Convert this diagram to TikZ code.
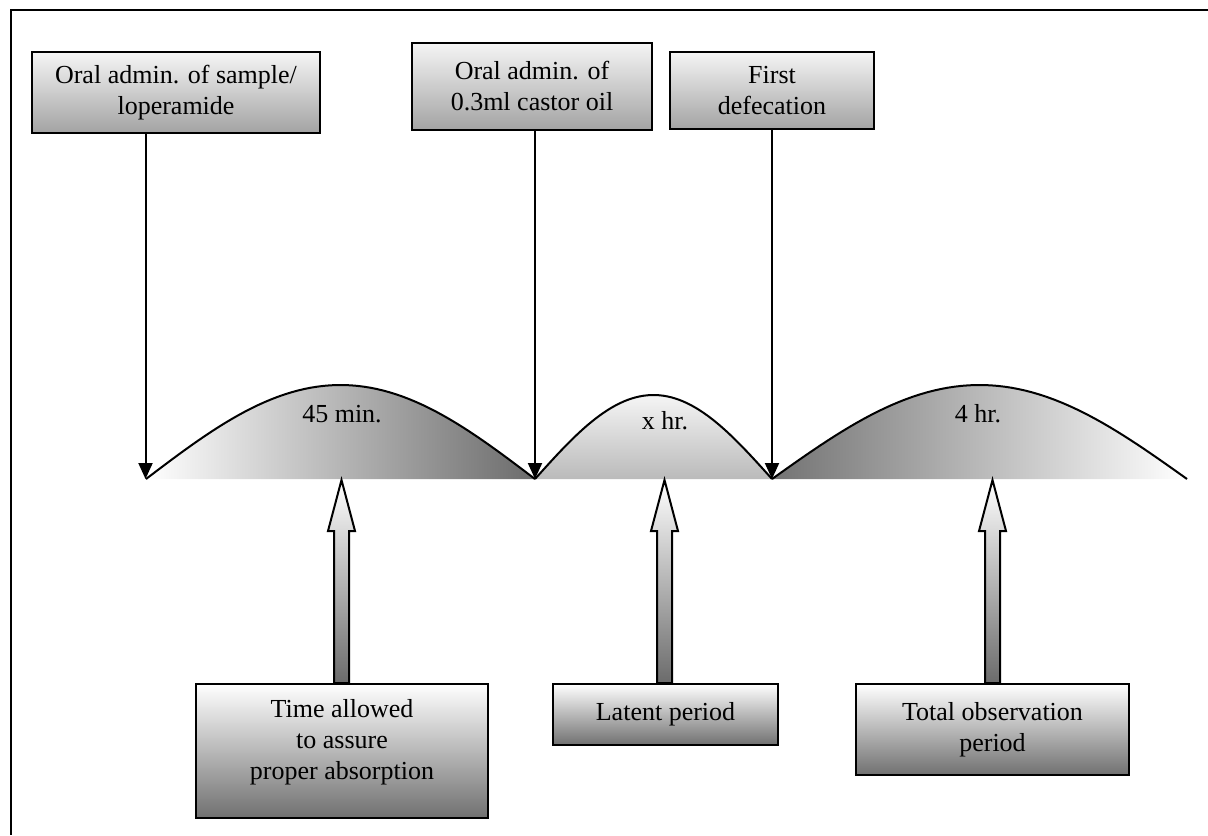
\documentclass[tikz,border=0pt]{standalone}
\usepackage{fontspec}
\setmainfont{Liberation Serif}
\usetikzlibrary{arrows.meta,calc}
\begin{document}
\begin{tikzpicture}[x=0.5pt,y=-0.5pt,
  txt/.style={font=\fontsize{13}{15.5}\selectfont,align=center},
  topbox/.style={txt,draw,line width=1pt,top color=black!4,bottom color=black!36,inner sep=0pt},
  botbox/.style={txt,draw,line width=1pt,top color=white,bottom color=black!56,inner sep=0pt},
  downarrow/.style={line width=1pt,-{Triangle[length=8pt,width=7pt]}},
  hump/.style={line width=1pt},
  uparrow/.style={draw,line width=1pt,top color=white,bottom color=black!58}]
\useasboundingbox (0,0) rectangle (1208,835);
% frame
\draw[line width=1pt] (1208,10) -- (11,10) -- (11,835);

% valleys
\coordinate (v0) at (145.5,479);
\coordinate (v1) at (535,479);
\coordinate (v2) at (772,479);

% humps
\shade[left color=white,right color=black!58]
  plot[domain=0:180,samples=60] ({146+\x/180*389},{479-94*sin(\x)}) -- cycle;
\draw[hump] plot[domain=0:180,samples=60] ({146+\x/180*389},{479-94*sin(\x)});
\shade[top color=white!96!black,bottom color=black!27]
  plot[domain=0:180,samples=60] ({535+\x/180*237},{479-84*sin(\x)}) -- cycle;
\draw[hump] plot[domain=0:180,samples=60] ({535+\x/180*237},{479-84*sin(\x)});
\shade[left color=black!55,right color=white]
  plot[domain=0:180,samples=60] ({772+\x/180*415},{479-94*sin(\x)}) -- cycle;
\draw[hump] plot[domain=0:180,samples=60] ({772+\x/180*415},{479-94*sin(\x)});

\node[txt] (l1) at (342,414) {45 min.};
\node[txt] (l2) at (665,421) {x hr.};
\node[txt] (l3) at (978,414) {4 hr.};

% top boxes
\node[topbox,minimum width=144pt,minimum height=40.5pt] (oral) at (176,92.5) {Oral admin. of sample/\\loperamide};
\node[topbox,minimum width=120pt,minimum height=43.5pt] (castor) at (532,86.5) {Oral admin. of\\0.3ml castor oil};
\node[topbox,minimum width=102pt,minimum height=38.5pt] (first) at (772,90.5) {First\\defecation};

\draw[downarrow] (oral.south -| v0) -- (v0);
\draw[downarrow] (castor.south -| v1) -- (v1);
\draw[downarrow] (first.south -| v2) -- (v2);

% bottom boxes
\node[botbox,minimum width=146pt,minimum height=67pt] (timebox) at (342,751) {};
\node[txt] (timetext) at (342,742) {Time allowed\\to assure\\proper absorption};
\node[botbox,minimum width=112.5pt,minimum height=30.5pt] (latent) at (665.5,714.5) {Latent period};
\node[botbox,minimum width=136.5pt,minimum height=45.5pt] (total) at (992.5,729.5) {Total observation\\period};

% hollow up arrows
\coordinate (t1) at (341.5,480);
\coordinate (t2) at (664.5,480);
\coordinate (t3) at (992.5,480);
\path[uparrow] (t1) -- ($(t1)+(13.5,51)$) -- ($(t1)+(7.5,51)$) -- ($(t1|-timebox.north)+(7.5,0)$)
  -- ($(t1|-timebox.north)+(-7.5,0)$) -- ($(t1)+(-7.5,51)$) -- ($(t1)+(-13.5,51)$) -- cycle;
\path[uparrow] (t2) -- ($(t2)+(13.5,51)$) -- ($(t2)+(7.5,51)$) -- ($(t2|-latent.north)+(7.5,0)$)
  -- ($(t2|-latent.north)+(-7.5,0)$) -- ($(t2)+(-7.5,51)$) -- ($(t2)+(-13.5,51)$) -- cycle;
\path[uparrow] (t3) -- ($(t3)+(13.5,51)$) -- ($(t3)+(7.5,51)$) -- ($(t3|-total.north)+(7.5,0)$)
  -- ($(t3|-total.north)+(-7.5,0)$) -- ($(t3)+(-7.5,51)$) -- ($(t3)+(-13.5,51)$) -- cycle;
\end{tikzpicture}
\end{document}
